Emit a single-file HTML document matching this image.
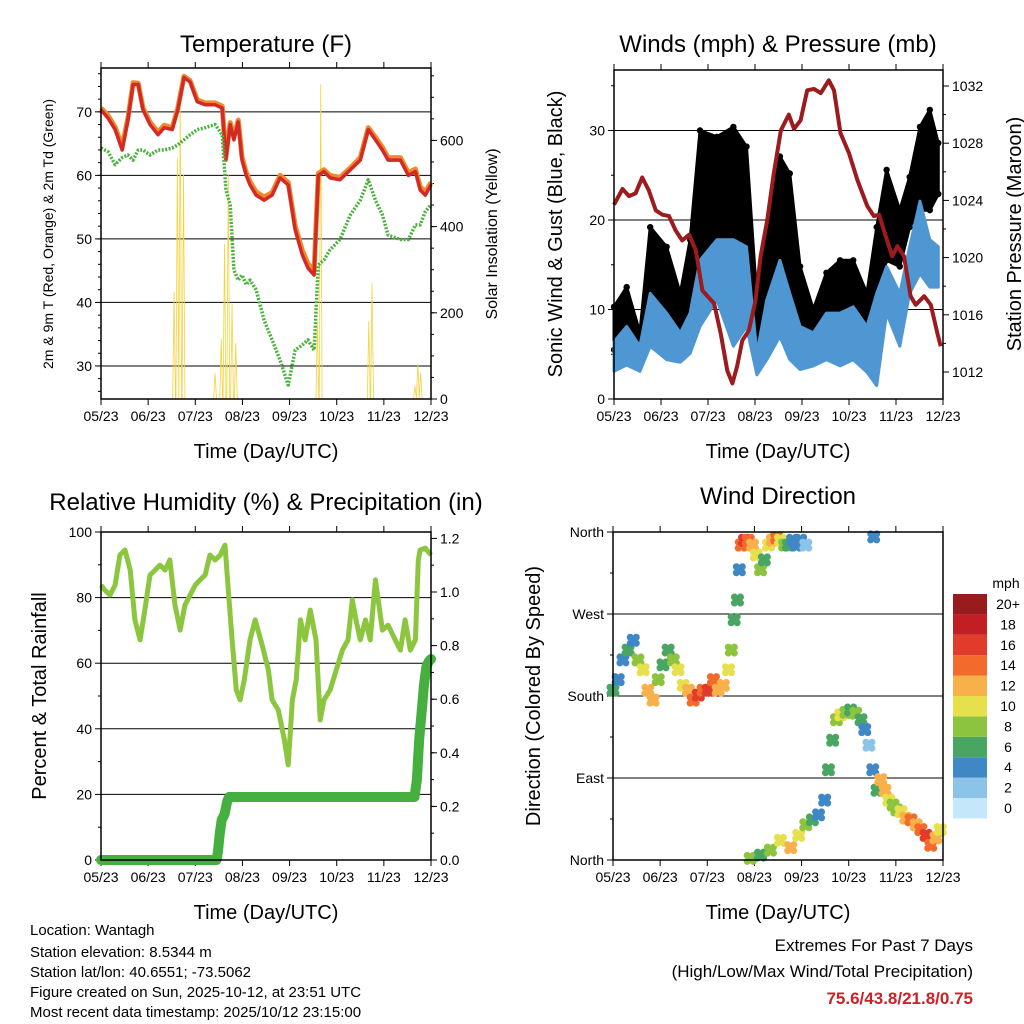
<!DOCTYPE html>
<html><head><meta charset="utf-8"><style>
html,body{margin:0;padding:0;background:#fff;}
svg{display:block;font-family:"Liberation Sans",sans-serif;}
</style></head><body>
<svg id="c" width="1024" height="1024" viewBox="0 0 1024 1024" xmlns="http://www.w3.org/2000/svg">
<rect width="1024" height="1024" fill="#fff"/>
<g id="g"></g>
<text x="266" y="52" font-size="24" text-anchor="middle">Temperature (F)</text>
<text x="778" y="52" font-size="24" text-anchor="middle">Winds (mph) &amp; Pressure (mb)</text>
<text x="266" y="510" font-size="24" text-anchor="middle">Relative Humidity (%) &amp; Precipitation (in)</text>
<text x="778" y="504" font-size="24" text-anchor="middle">Wind Direction</text>
<text x="266" y="458" font-size="20" text-anchor="middle">Time (Day/UTC)</text>
<text x="778" y="458" font-size="20" text-anchor="middle">Time (Day/UTC)</text>
<text x="266" y="919" font-size="20" text-anchor="middle">Time (Day/UTC)</text>
<text x="778" y="919" font-size="20" text-anchor="middle">Time (Day/UTC)</text>
<text transform="translate(53,234) rotate(-90)" font-size="14" text-anchor="middle">2m &amp; 9m T (Red, Orange) &amp; 2m Td (Green)</text>
<text transform="translate(497,234) rotate(-90)" font-size="16" text-anchor="middle">Solar Insolation (Yellow)</text>
<text transform="translate(562,234) rotate(-90)" font-size="20" text-anchor="middle">Sonic Wind &amp; Gust (Blue, Black)</text>
<text transform="translate(1021,234) rotate(-90)" font-size="20" text-anchor="middle">Station Pressure (Maroon)</text>
<text transform="translate(46,696) rotate(-90)" font-size="20" text-anchor="middle">Percent &amp; Total Rainfall</text>
<text transform="translate(540,696) rotate(-90)" font-size="20" text-anchor="middle">Direction (Colored By Speed)</text>
<g font-size="15">
<text x="30" y="935">Location: Wantagh</text>
<text x="30" y="957">Station elevation: 8.5344 m</text>
<text x="30" y="977">Station lat/lon: 40.6551; -73.5062</text>
<text x="30" y="997">Figure created on Sun, 2025-10-12, at 23:51 UTC</text>
<text x="30" y="1017">Most recent data timestamp: 2025/10/12 23:15:00</text>
</g>
<g font-size="17" text-anchor="end">
<text x="973" y="951">Extremes For Past 7 Days</text>
<text x="973" y="977">(High/Low/Max Wind/Total Precipitation)</text>
<text x="973" y="1004" fill="#cc2127" font-weight="bold">75.6/43.8/21.8/0.75</text>
</g>
</svg>
<script>
const monthLabels=["05/23","06/23","07/23","08/23","09/23","10/23","11/23","12/23"];
const tT=[0,.15,.30,.45,.57,.68,.79,.89,1.04,1.21,1.34,1.51,1.63,1.76,1.89,2.04,2.21,2.42,2.57,2.65,2.74,2.82,2.91,2.99,3.08,3.16,3.29,3.46,3.63,3.80,3.97,4.12,4.27,4.39,4.52,4.61,4.73,4.86,5.07,5.29,5.50,5.67,5.82,5.97,6.09,6.35,6.52,6.67,6.77,6.88,7.0];
const temp2m=[70.3,69,67.2,64,68.7,74.3,74.3,70.3,68,66.4,67.5,67.2,70.3,75.4,74.7,71.6,71.1,71.1,70.6,62.4,68,65.6,68.4,62.4,60,58.5,56.9,56.1,56.9,59.6,58.5,51.4,47.5,45.4,44.3,60,60.6,59.6,59.3,60.9,62.4,67.2,65.6,64,62.4,62.4,60,60.6,57.7,56.9,58.5];
const temp9m=[70.6,69.4,67.6,64.6,69,74.6,74.5,70.6,68.4,66.8,67.9,67.5,70.6,75.6,74.9,71.9,71.4,71.4,70.9,62.9,68.3,66.0,68.7,62.9,60.5,59.0,57.4,56.6,57.3,60.0,58.9,52.0,48.2,46.1,45.0,60.3,60.9,60.0,59.7,61.2,62.8,67.5,66.0,64.4,62.8,62.8,60.4,61.0,58.2,57.4,58.9];
const dew2m=[64.3,63.7,61.7,62.8,63.2,62.4,64,64,63.2,64,64,64.3,64.8,65.6,66.4,67.2,67.5,68,66.4,57.7,55.4,45.1,43.5,44.3,42.8,43.5,42,37.2,34.1,30.9,27,32.5,33.3,34.1,32.5,45.9,46.7,48.3,49.9,53.8,56.1,59.3,56.1,53.8,50.6,49.9,49.9,52.2,52.2,54.3,55.4];
const solarT=[1.55,1.62,1.68,1.75,2.42,2.55,2.62,2.70,2.78,2.86,4.59,4.66,5.68,5.75,6.66,6.72,6.78];
const solarV=[250,560,700,520,60,140,360,520,220,130,180,730,180,270,30,80,60];
const tW=[0,.27,.55,.77,1.12,1.41,1.62,1.83,2.19,2.54,2.82,3.04,3.25,3.53,3.74,3.96,4.24,4.52,4.81,5.09,5.38,5.59,5.80,6.08,6.29,6.51,6.72,6.90];
const gustLow=[5.5,6.2,5.1,8.1,8.4,7.3,8.7,16.0,16.0,14.8,15.5,6.6,8.7,11.8,11.8,5.9,5.5,6.2,5.9,6.6,5.9,11.8,15.5,14.8,19.2,21.1,21.1,22.9];
const gustHigh=[10.3,12.5,7.4,19.2,17.0,11.8,17.8,30.0,29.3,30.4,28.2,11.1,18.5,27.1,25.2,14.8,10.0,14.1,15.5,15.5,11.8,19.2,25.6,21.1,24.8,30.4,32.3,28.6];
const windLow=[3.1,3.8,3.1,5.9,4.4,4.1,5.1,8.1,11.1,5.9,8.1,2.7,4.4,7.0,4.4,3.3,3.7,4.4,3.7,4.4,3.0,1.5,9.6,5.9,11.8,14.0,12.5,12.5];
const windHigh=[6.4,8.1,5.9,11.8,9.6,7.4,9.6,15.5,17.8,17.8,17.0,5.1,11.1,15.5,11.8,8.1,7.4,9.6,9.6,10.3,8.1,11.8,14.8,11.8,17.0,22.1,17.8,17.0];
const tP=[0,.18,.32,.46,.60,.74,.89,1.03,1.17,1.31,1.45,1.60,1.74,1.88,1.99,2.13,2.27,2.41,2.52,2.62,2.73,2.87,3.01,3.12,3.26,3.40,3.55,3.72,3.83,3.97,4.11,4.25,4.40,4.57,4.68,4.82,5.00,5.18,5.39,5.53,5.64,5.78,5.92,6.03,6.17,6.31,6.42,6.60,6.74,6.88,6.95];
const pressure=[1023.7,1024.8,1024.3,1024.5,1025.6,1024.7,1023.3,1023.0,1022.9,1021.9,1021.2,1021.6,1020.5,1017.7,1017.3,1016.8,1014.7,1012.1,1011.2,1012.4,1014.2,1014.9,1017.0,1020.1,1022.6,1025.9,1028.9,1030.0,1029.0,1029.6,1031.7,1031.8,1031.5,1032.4,1031.7,1028.7,1027.3,1025.4,1023.6,1022.9,1023.0,1021.5,1020.1,1020.8,1020.1,1017.3,1016.7,1017.3,1016.7,1014.7,1013.8];
const tRH=[0,.08,.19,.30,.40,.51,.62,.72,.83,.93,1.04,1.15,1.25,1.36,1.46,1.57,1.68,1.78,1.89,2.0,2.10,2.21,2.31,2.42,2.53,2.63,2.70,2.78,2.87,2.95,3.04,3.16,3.27,3.42,3.55,3.63,3.76,3.89,3.97,4.06,4.14,4.23,4.33,4.44,4.56,4.65,4.73,4.86,4.99,5.12,5.24,5.33,5.41,5.50,5.61,5.71,5.82,5.88,5.97,6.09,6.24,6.35,6.45,6.56,6.67,6.73,6.77,6.88,7.0];
const rh=[83.8,82.3,80.8,83.8,93,94.5,88.4,73.2,67.1,76.2,86.9,88.4,89.9,88.4,91.5,77.7,70.1,77.7,80.8,83.8,85.4,86.9,93,91.5,93,96,82.3,67.1,51.8,48.8,54.9,67.1,73.2,65.5,57.9,48.8,45.7,36.6,29,48.8,54.9,73.2,67.1,76.2,67.1,42.7,48.8,51.8,57.9,64,67.1,79.3,73.2,67.1,73.2,67.1,85.4,79.3,70.1,71.6,67.1,64,73.2,64,67.1,91.5,94.5,95.1,93];
const tRain=[0,2.45,2.48,2.52,2.56,2.62,2.68,2.72,6.65,6.70,6.75,6.80,6.85,6.90,6.95,7.0];
const rain=[0,0,0.03,0.10,0.15,0.17,0.22,0.235,0.235,0.30,0.45,0.55,0.65,0.72,0.74,0.75];
const tD=[0,.11,.21,.32,.43,.53,.64,.74,.85,.96,1.06,1.17,1.28,1.38,1.49,1.60,1.70,1.81,1.91,2.02,2.13,2.23,2.34,2.45,2.51,2.57,2.64,2.68,2.72,2.79,2.87,2.96,3.04,3.13,3.21,3.30,3.38,3.47,3.55,3.64,3.72,3.81,3.89,3.98,4.09,5.53,2.91,3.13,3.34,3.55,3.77,3.94,4.09,4.23,4.36,4.49,4.57,4.66,4.74,4.83,4.94,5.04,5.15,5.26,5.34,5.43,5.51,5.60,5.68,5.77,5.85,5.94,6.02,6.11,6.21,6.32,6.43,6.53,6.64,6.74,6.85,6.94];
const dirQ=[2.07,2.20,2.44,2.56,2.68,2.44,2.32,2.07,1.95,2.20,2.38,2.56,2.44,2.32,2.13,2.07,1.95,2.01,2.07,2.07,2.20,2.07,2.13,2.32,2.56,2.93,3.17,3.54,3.84,3.90,3.90,3.84,3.72,3.54,3.66,3.84,3.90,3.93,3.90,3.84,3.84,3.90,3.84,3.90,3.84,3.94,.02,.06,.12,.24,.15,.30,.43,.49,.55,.73,1.10,1.46,1.71,1.77,1.80,1.83,1.79,1.71,1.59,1.40,1.10,.85,.98,.85,.73,.67,.61,.59,.51,.49,.43,.37,.30,.18,.27,.37];
const dirSpd=[6,4,4,5,4,8,10,12,11,7,6,6,8,9,10,12,14,15,14,16,14,12,12,10,8,6,5,4,14,16,14,12,10,8,6,10,12,14,10,8,6,4,4,3,2,4,8,6,8,10,12,10,8,6,4,4,6,6,8,10,8,6,8,6,4,2,3,6,12,12,10,8,8,10,12,14,12,14,16,14,12,10];
const speedLevels=["0","2","4","6","8","10","12","14","16","18","20+"];
const speedColors=["#c4e7f9","#8cc3e8","#3f88c5","#48a562","#8cc43f","#e6e04c","#f8b04a","#f26a2c","#e03b2b","#c21f24","#981b1e"];

const NS="http://www.w3.org/2000/svg";
const G=document.getElementById('g');
function mk(tag,attrs,parent){const e=document.createElementNS(NS,tag);for(const k in attrs)e.setAttribute(k,attrs[k]);(parent||G).appendChild(e);return e;}
function lin(d0,d1,r0,r1){return v=>r0+(v-d0)*(r1-r0)/(d1-d0);}
function pathOf(xs,ys,fx,fy){return xs.map((t,i)=>(i?'L':'M')+fx(t).toFixed(1)+','+fy(ys[i]).toFixed(1)).join('');}

function frame(name,x0,x1,y0,y1,leftTicks,leftFy,leftMinor,rightTicks,rightFy,rightMinor,rightFmt,leftFmt){
  const g=mk('g',{});
  
  
  const fx=lin(0,7,x0,x1);
  leftTicks.forEach(v=>{const y=leftFy(v);
    const l=mk('line',{x1:x0,x2:x1,y1:y,y2:y,stroke:'#000','stroke-width':1},g);
    
    
    mk('line',{x1:x0-6,x2:x0,y1:y,y2:y,stroke:'#000'},g);
    const t=mk('text',{x:x0-9,y:y+5,'font-size':14,'text-anchor':'end'},g);t.textContent=leftFmt?leftFmt(v):v;
    
    
  });
  leftMinor.forEach(v=>{const y=leftFy(v);mk('line',{x1:x0-3,x2:x0,y1:y,y2:y,stroke:'#000'},g);});
  if(rightTicks){rightTicks.forEach(v=>{const y=rightFy(v);
    mk('line',{x1:x1,x2:x1+6,y1:y,y2:y,stroke:'#000'},g);
    const t=mk('text',{x:x1+9,y:y+5,'font-size':14},g);t.textContent=rightFmt?rightFmt(v):v;
    
    
  });
  rightMinor.forEach(v=>{const y=rightFy(v);mk('line',{x1:x1,x2:x1+3,y1:y,y2:y,stroke:'#000'},g);});}
  monthLabels.forEach((m,i)=>{const x=fx(i);
    mk('line',{x1:x,x2:x,y1:y1,y2:y1+6,stroke:'#000'},g);
    mk('line',{x1:x,x2:x,y1:y0-6,y2:y0,stroke:'#000'},g);
    const t=mk('text',{x:x,y:y1+22,'font-size':14,'text-anchor':'middle'},g);t.textContent=m;
    
    
  });
  return {fx,g};
}
function border(x0,x1,y0,y1){const r=mk('rect',{x:x0,y:y0,width:x1-x0,height:y1-y0,fill:'none',stroke:'#000','stroke-width':1.5});
  
  }
function range(a,b,s){const r=[];for(let v=a;v<=b+1e-9;v+=s)r.push(+v.toFixed(3));return r;}

// ---- Temperature panel
(function(){
  const x0=101,x1=431,y0=68,y1=399;
  const fy=lin(24.8,76.9,y1,y0), fs=lin(0,768,y1,y0);
  const {fx}=frame('temperature',x0,x1,y0,y1,[30,40,50,60,70],fy,range(26,76,2),[0,200,400,600],fs,range(0,750,50));
  const sp=mk('path',{d:solarT.map((t,i)=>'M'+fx(t-0.03)+','+y1+'L'+fx(t)+','+fs(solarV[i])+'L'+fx(t+0.03)+','+y1).join(''),fill:'none',stroke:'#f7d23e','stroke-width':0.8});
  
  
  const o=mk('path',{d:pathOf(tT,temp9m,fx,fy),fill:'none',stroke:'#f08a2c','stroke-width':5,'stroke-linejoin':'round'});
  
  
  const r=mk('path',{d:pathOf(tT,temp2m,fx,fy),fill:'none',stroke:'#d22a26','stroke-width':3.5,'stroke-linejoin':'round'});
  
  
  const d=mk('path',{d:pathOf(tT,dew2m,fx,fy),fill:'none',stroke:'#4cb23e','stroke-width':3.5,'stroke-dasharray':'2 1.5','stroke-linejoin':'round'});
  
  
  border(x0,x1,y0,y1);
})();

// ---- Winds panel
(function(){
  const x0=614,x1=943,y0=70,y1=399;
  const fy=lin(0,10,y1,y1-89.5), fp=lin(1012,1032,372,86);
  const {fx}=frame('winds',x0,x1,y0,y1,[0,10,20,30],fy,range(5,35,10),[1012,1016,1020,1024,1028,1032],fp,range(1014,1030,4));
  const band=(lo,hi,col,nm)=>{
    const d=pathOf(tW,hi,fx,fy)+tW.slice().reverse().map((t,i)=>'L'+fx(t).toFixed(1)+','+fy(lo[lo.length-1-i]).toFixed(1)).join('')+'Z';
    const p=mk('path',{d:d,fill:col,stroke:col,'stroke-width':3,'stroke-linejoin':'round'});
    
    
  };
  band(gustLow,gustHigh,'#000','gust-band');
  tW.forEach((t,i)=>{[gustLow[i],gustHigh[i]].forEach(v=>{const c=mk('circle',{cx:fx(t),cy:fy(v),r:3.2,fill:'#000'});
    
    });});
  band(windLow,windHigh,'#4f97d2','wind-band');
  const p=mk('path',{d:pathOf(tP,pressure,fx,fp),fill:'none',stroke:'#9b1b1e','stroke-width':4,'stroke-linejoin':'round'});
  
  
  border(x0,x1,y0,y1);
})();

// ---- RH panel
(function(){
  const x0=101,x1=431,y0=532,y1=860;
  const fy=lin(0,100,y1,y0), fr=lin(0,1,y1,y1-268);
  const {fx}=frame('humidity',x0,x1,y0,y1,[0,20,40,60,80,100],fy,range(10,90,20),[0,0.2,0.4,0.6,0.8,1.0,1.2],fr,range(0.1,1.1,0.1),v=>v.toFixed(1));
  const r=mk('path',{d:pathOf(tRH,rh,fx,fy),fill:'none',stroke:'#8cc63f','stroke-width':5,'stroke-linejoin':'round'});
  
  
  const p=mk('path',{d:pathOf(tRain,rain,fx,fr),fill:'none',stroke:'#45b040','stroke-width':10,'stroke-linejoin':'round','stroke-linecap':'round'});
  
  
  border(x0,x1,y0,y1);
})();

// ---- Wind direction panel
(function(){
  const x0=613,x1=943,y0=532,y1=860;
  const fy=lin(0,4,y1,y0);
  const dirNames=["North","East","South","West","North"];
  const {fx}=frame('direction',x0,x1,y0,y1,[0,1,2,3,4],fy,[0.5,1.5,2.5,3.5],null,null,null,null,v=>dirNames[v]);
  const offs=[[0,0],[3,-3],[-3,3],[3,3],[-3,-3]];
  tD.forEach((t,i)=>{
    const col=speedColors[Math.min(10,Math.round(dirSpd[i]/2))];
    offs.forEach(o=>{const c=mk('circle',{cx:fx(t)+o[0],cy:fy(dirQ[i])+o[1],r:3.5,fill:col});
      
      });
  });
  border(x0,x1,y0,y1);
  const lg=mk('g',{});
  
  
  const t=mk('text',{x:1006,y:588,'font-size':14,'text-anchor':'middle'},lg);t.textContent='mph';
  speedLevels.forEach((s,i)=>{const y=798-i*20.4;
    const b=mk('rect',{x:953,y:y,width:34,height:20.4,fill:speedColors[i]},lg);
    
    
    const tx=mk('text',{x:1008,y:y+15,'font-size':14,'text-anchor':'middle'},lg);tx.textContent=s;
    
    
  });
})();
</script>
</body></html>
